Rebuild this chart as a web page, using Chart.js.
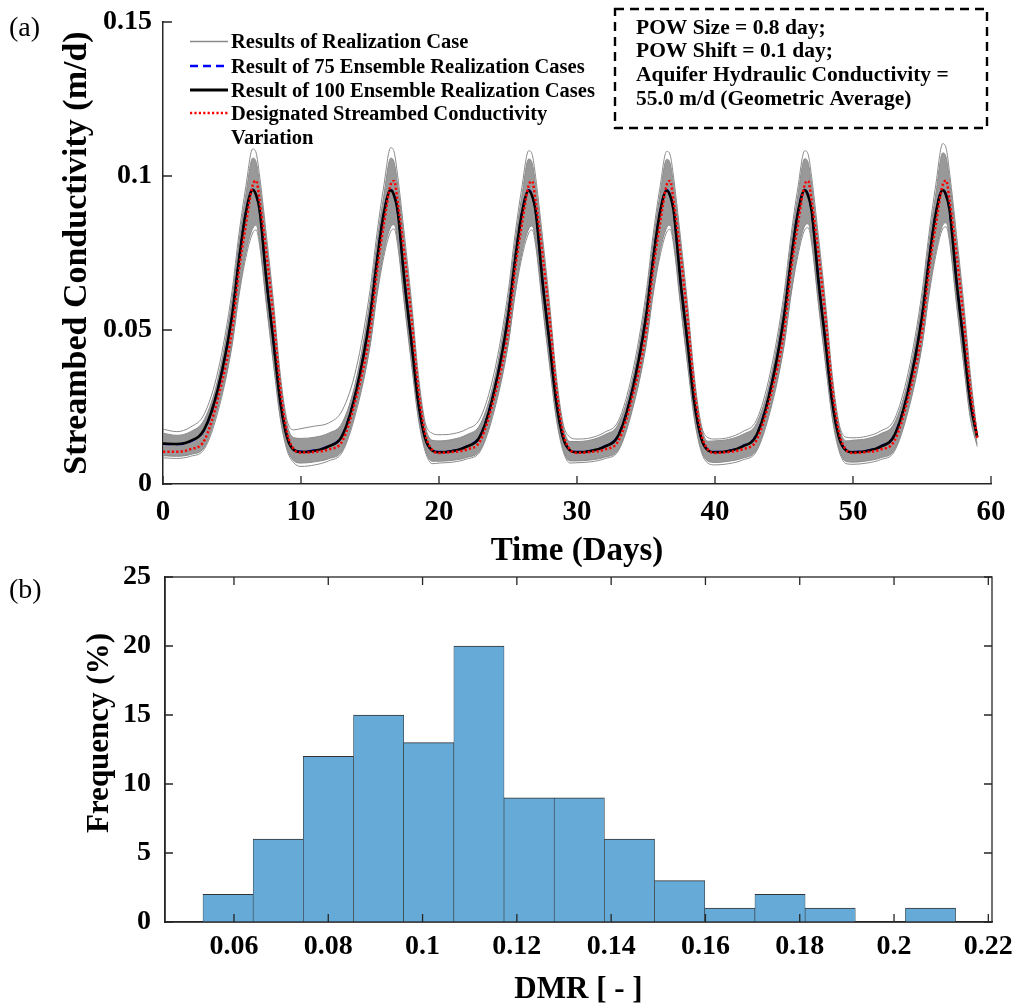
<!DOCTYPE html>
<html>
<head>
<meta charset="utf-8">
<script src="https://cdn.jsdelivr.net/npm/chart.js@4.4.1/dist/chart.umd.min.js"></script>
<style>
  html, body { margin: 0; padding: 0; background: #fff; overflow: hidden; }
  #wrap { position: relative; width: 1013px; height: 1005px; }
  #topBox { position: absolute; left: 0; top: 0; width: 1013px; height: 575px; }
  #botBox { position: absolute; left: 0; top: 555px; width: 1013px; height: 450px; }
</style>
</head>
<body>
<div id="wrap">
  <div id="topBox"><canvas id="condChart"></canvas></div>
  <div id="botBox"><canvas id="histChart"></canvas></div>
</div>
<script>
// ---- panel (a): time axis, one line per cycle of 10 days
const TIME = [
  0, 1, 2, 3, 4, 5, 5.5, 6, 6.5, 6.75, 7, 7.5, 8, 8.5, 9, 9.5,
  10, 11, 12, 13, 14, 15, 15.5, 16, 16.5, 16.75, 17, 17.5, 18, 18.5, 19, 19.5,
  20, 21, 22, 23, 24, 25, 25.5, 26, 26.5, 26.75, 27, 27.5, 28, 28.5, 29, 29.5,
  30, 31, 32, 33, 34, 35, 35.5, 36, 36.5, 36.75, 37, 37.5, 38, 38.5, 39, 39.5,
  40, 41, 42, 43, 44, 45, 45.5, 46, 46.5, 46.75, 47, 47.5, 48, 48.5, 49, 49.5,
  50, 51, 52, 53, 54, 55, 55.5, 56, 56.5, 56.75, 57, 57.5, 58, 58.5, 59
];

// designated streambed conductivity (red dotted)
const DESIGNATED = [
  0.0105, 0.0105, 0.0113, 0.0142, 0.0282, 0.0497, 0.0690, 0.0840, 0.0970, 0.0985, 0.0920, 0.0745, 0.0540, 0.0310, 0.0165, 0.0112,
  0.0102, 0.0104, 0.0112, 0.0140, 0.0280, 0.0495, 0.0688, 0.0842, 0.0972, 0.0984, 0.0918, 0.0743, 0.0538, 0.0308, 0.0163, 0.0111,
  0.0101, 0.0104, 0.0112, 0.0141, 0.0281, 0.0494, 0.0690, 0.0841, 0.0970, 0.0983, 0.0919, 0.0745, 0.0540, 0.0310, 0.0164, 0.0111,
  0.0101, 0.0104, 0.0112, 0.0140, 0.0280, 0.0494, 0.0689, 0.0840, 0.0971, 0.0984, 0.0919, 0.0744, 0.0539, 0.0309, 0.0164, 0.0111,
  0.0101, 0.0104, 0.0113, 0.0141, 0.0281, 0.0495, 0.0690, 0.0841, 0.0971, 0.0984, 0.0920, 0.0745, 0.0540, 0.0310, 0.0165, 0.0111,
  0.0101, 0.0104, 0.0112, 0.0140, 0.0280, 0.0494, 0.0690, 0.0841, 0.0971, 0.0985, 0.0920, 0.0745, 0.0540, 0.0310, 0.0150
];

// ensemble of 100 realizations (black)
const ENSEMBLE_100 = [
  0.0131, 0.0130, 0.0140, 0.0178, 0.0312, 0.0545, 0.0725, 0.0880, 0.0955, 0.0938, 0.0890, 0.0660, 0.0465, 0.0268, 0.0150, 0.0110,
  0.0104, 0.0108, 0.0122, 0.0158, 0.0302, 0.0542, 0.0722, 0.0878, 0.0954, 0.0936, 0.0888, 0.0658, 0.0462, 0.0265, 0.0148, 0.0109,
  0.0103, 0.0107, 0.0121, 0.0157, 0.0301, 0.0541, 0.0722, 0.0877, 0.0953, 0.0935, 0.0887, 0.0657, 0.0462, 0.0266, 0.0149, 0.0109,
  0.0103, 0.0107, 0.0121, 0.0158, 0.0302, 0.0542, 0.0723, 0.0878, 0.0953, 0.0936, 0.0888, 0.0658, 0.0463, 0.0266, 0.0149, 0.0109,
  0.0103, 0.0107, 0.0122, 0.0158, 0.0302, 0.0542, 0.0723, 0.0878, 0.0954, 0.0936, 0.0888, 0.0658, 0.0463, 0.0266, 0.0149, 0.0109,
  0.0103, 0.0107, 0.0121, 0.0158, 0.0302, 0.0542, 0.0723, 0.0878, 0.0954, 0.0937, 0.0889, 0.0659, 0.0464, 0.0268, 0.0152
];

// ensemble of 75 realizations (blue dashed)
const ENSEMBLE_75 = [
  0.0130, 0.0129, 0.0139, 0.0177, 0.0311, 0.0544, 0.0724, 0.0879, 0.0956, 0.0939, 0.0891, 0.0661, 0.0466, 0.0269, 0.0151, 0.0111,
  0.0105, 0.0109, 0.0123, 0.0159, 0.0303, 0.0543, 0.0723, 0.0879, 0.0955, 0.0937, 0.0889, 0.0659, 0.0463, 0.0266, 0.0149, 0.0110,
  0.0104, 0.0108, 0.0122, 0.0158, 0.0302, 0.0542, 0.0723, 0.0878, 0.0954, 0.0936, 0.0888, 0.0658, 0.0463, 0.0267, 0.0150, 0.0110,
  0.0104, 0.0108, 0.0122, 0.0159, 0.0303, 0.0543, 0.0724, 0.0879, 0.0954, 0.0937, 0.0889, 0.0659, 0.0464, 0.0267, 0.0150, 0.0110,
  0.0104, 0.0108, 0.0123, 0.0159, 0.0303, 0.0543, 0.0724, 0.0879, 0.0955, 0.0937, 0.0889, 0.0659, 0.0464, 0.0267, 0.0150, 0.0110,
  0.0104, 0.0108, 0.0122, 0.0159, 0.0303, 0.0543, 0.0724, 0.0879, 0.0955, 0.0938, 0.0890, 0.0660, 0.0465, 0.0269, 0.0153
];

// a few single realizations (top outlier, upper/lower core, bottom outlier)
const REAL_TOP = [
  0.0178, 0.0170, 0.0185, 0.0228, 0.0370, 0.0625, 0.0810, 0.0965, 0.1088, 0.1075, 0.1000, 0.0805, 0.0595, 0.0355, 0.0205, 0.0176,
  0.0180, 0.0188, 0.0198, 0.0240, 0.0375, 0.0628, 0.0812, 0.0968, 0.1092, 0.1078, 0.1002, 0.0806, 0.0596, 0.0356, 0.0200, 0.0165,
  0.0160, 0.0163, 0.0178, 0.0215, 0.0362, 0.0620, 0.0806, 0.0962, 0.1082, 0.1070, 0.0998, 0.0802, 0.0592, 0.0352, 0.0195, 0.0152,
  0.0146, 0.0150, 0.0168, 0.0205, 0.0358, 0.0618, 0.0804, 0.0960, 0.1080, 0.1068, 0.0996, 0.0800, 0.0590, 0.0350, 0.0193, 0.0150,
  0.0146, 0.0151, 0.0170, 0.0207, 0.0360, 0.0618, 0.0804, 0.0961, 0.1082, 0.1070, 0.0998, 0.0802, 0.0592, 0.0352, 0.0194, 0.0152,
  0.0150, 0.0155, 0.0172, 0.0210, 0.0362, 0.0622, 0.0810, 0.0972, 0.1105, 0.1090, 0.1010, 0.0810, 0.0598, 0.0358, 0.0165
];
const REAL_HIGH = [
  0.0165, 0.0158, 0.0170, 0.0210, 0.0345, 0.0600, 0.0785, 0.0938, 0.1058, 0.1045, 0.0975, 0.0785, 0.0575, 0.0340, 0.0192, 0.0150,
  0.0148, 0.0152, 0.0165, 0.0200, 0.0340, 0.0598, 0.0782, 0.0936, 0.1058, 0.1044, 0.0974, 0.0784, 0.0574, 0.0338, 0.0188, 0.0142,
  0.0140, 0.0145, 0.0160, 0.0195, 0.0337, 0.0594, 0.0780, 0.0934, 0.1055, 0.1042, 0.0972, 0.0782, 0.0572, 0.0336, 0.0185, 0.0138,
  0.0138, 0.0143, 0.0160, 0.0195, 0.0337, 0.0595, 0.0780, 0.0935, 0.1054, 0.1041, 0.0972, 0.0782, 0.0572, 0.0336, 0.0185, 0.0139,
  0.0140, 0.0145, 0.0161, 0.0196, 0.0338, 0.0595, 0.0781, 0.0935, 0.1056, 0.1043, 0.0973, 0.0783, 0.0573, 0.0337, 0.0186, 0.0140,
  0.0142, 0.0147, 0.0163, 0.0198, 0.0340, 0.0598, 0.0785, 0.0942, 0.1075, 0.1060, 0.0985, 0.0790, 0.0578, 0.0342, 0.0160
];
const REAL_LOW = [
  0.0092, 0.0090, 0.0096, 0.0120, 0.0250, 0.0455, 0.0620, 0.0750, 0.0830, 0.0840, 0.0790, 0.0590, 0.0400, 0.0220, 0.0115, 0.0075,
  0.0068, 0.0072, 0.0082, 0.0110, 0.0245, 0.0452, 0.0618, 0.0752, 0.0835, 0.0842, 0.0792, 0.0592, 0.0402, 0.0222, 0.0113, 0.0074,
  0.0074, 0.0077, 0.0086, 0.0112, 0.0246, 0.0453, 0.0618, 0.0750, 0.0828, 0.0838, 0.0790, 0.0590, 0.0400, 0.0220, 0.0113, 0.0075,
  0.0075, 0.0078, 0.0087, 0.0112, 0.0246, 0.0453, 0.0618, 0.0752, 0.0832, 0.0840, 0.0790, 0.0590, 0.0400, 0.0221, 0.0113, 0.0074,
  0.0070, 0.0074, 0.0084, 0.0110, 0.0245, 0.0452, 0.0618, 0.0754, 0.0838, 0.0845, 0.0795, 0.0592, 0.0401, 0.0221, 0.0113, 0.0073,
  0.0071, 0.0075, 0.0085, 0.0111, 0.0245, 0.0453, 0.0620, 0.0756, 0.0840, 0.0848, 0.0798, 0.0594, 0.0403, 0.0222, 0.0130
];
const REAL_BOTTOM = [
  0.0085, 0.0083, 0.0090, 0.0114, 0.0238, 0.0448, 0.0610, 0.0735, 0.0815, 0.0825, 0.0775, 0.0578, 0.0390, 0.0212, 0.0108, 0.0068,
  0.0057, 0.0062, 0.0075, 0.0104, 0.0235, 0.0446, 0.0610, 0.0738, 0.0820, 0.0828, 0.0778, 0.0580, 0.0392, 0.0213, 0.0106, 0.0066,
  0.0068, 0.0071, 0.0081, 0.0107, 0.0237, 0.0448, 0.0610, 0.0735, 0.0815, 0.0825, 0.0776, 0.0578, 0.0390, 0.0212, 0.0106, 0.0068,
  0.0069, 0.0072, 0.0082, 0.0108, 0.0238, 0.0448, 0.0611, 0.0737, 0.0818, 0.0827, 0.0777, 0.0579, 0.0391, 0.0212, 0.0106, 0.0067,
  0.0062, 0.0066, 0.0078, 0.0106, 0.0236, 0.0447, 0.0611, 0.0740, 0.0825, 0.0832, 0.0782, 0.0581, 0.0392, 0.0213, 0.0106, 0.0066,
  0.0064, 0.0068, 0.0079, 0.0106, 0.0237, 0.0448, 0.0612, 0.0742, 0.0828, 0.0835, 0.0785, 0.0583, 0.0394, 0.0214, 0.0122
];

const TIME_TICKS = [0, 10, 20, 30, 40, 50, 60];
const COND_TICKS = [0, 0.05, 0.1, 0.15];
const COND_LABELS = ['0', '0.05', '0.1', '0.15'];

// ---- panel (b): histogram of DMR
const DMR_BINS = [0.05875, 0.06939, 0.08003, 0.09068, 0.10132, 0.11196, 0.12260, 0.13325, 0.14389, 0.15453, 0.16517, 0.17582, 0.18646, 0.19710, 0.20774];
const FREQ = [2, 6, 12, 15, 13, 20, 9, 9, 6, 3, 1, 2, 1, 0, 1];
const DMR_TICKS = [0.06, 0.08, 0.1, 0.12, 0.14, 0.16, 0.18, 0.2, 0.22];
const DMR_LABELS = ['0.06', '0.08', '0.1', '0.12', '0.14', '0.16', '0.18', '0.2', '0.22'];
const FREQ_TICKS = [0, 5, 10, 15, 20, 25];

const LEGEND_TEXT = [
  ['Results of Realization Case'],
  ['Result of 75 Ensemble Realization Cases'],
  ['Result of 100 Ensemble Realization Cases'],
  ['Designated Streambed Conductivity', 'Variation']
];
const NOTE_TEXT = [
  'POW Size = 0.8 day;',
  'POW Shift = 0.1 day;',
  'Aquifer Hydraulic Conductivity =',
  '55.0 m/d (Geometric Average)'
];

const SERIF = '"Liberation Serif", "Times New Roman", serif';
const AXIS = '#262626';
const GREY = '#8a8a8a';

function pts(arr) {
  return TIME.map((t, i) => ({ x: t, y: arr[i] }));
}

function line(arr, color, width, dash, extra) {
  return Object.assign({
    data: pts(arr),
    borderColor: color,
    borderWidth: width,
    borderDash: dash,
    pointRadius: 0,
    cubicInterpolationMode: 'monotone',
    fill: false
  }, extra || {});
}

// no label overflow padding: the plot box is placed by hand
function noPadX(s, h) { s.height = h; s.paddingLeft = 0; s.paddingRight = 0; }
function noPadY(s, w) { s.width = w; s.paddingTop = 0; s.paddingBottom = 0; }

// first dataset is drawn on top
const condDatasets = [
  line(DESIGNATED, '#ff0000', 2.5, [2.2, 2.2]),
  line(ENSEMBLE_100, '#000000', 2.6, []),
  line(ENSEMBLE_75, '#0000ff', 2.2, [8, 5]),
  line(REAL_TOP, GREY, 1, []),
  line(REAL_HIGH, GREY, 1, [], { fill: '+1', backgroundColor: 'rgba(135,135,135,0.85)' }),
  line(REAL_LOW, GREY, 1, []),
  line(REAL_BOTTOM, GREY, 1, [])
];

const panelA = {
  id: 'panelA',
  afterDraw(chart) {
    const { ctx, chartArea: a, scales } = chart;
    ctx.save();

    // inward tick marks
    ctx.strokeStyle = AXIS;
    ctx.lineWidth = 1.3;
    ctx.beginPath();
    TIME_TICKS.forEach(v => {
      const px = scales.x.getPixelForValue(v);
      ctx.moveTo(px, a.bottom);
      ctx.lineTo(px, a.bottom - 8);
    });
    COND_TICKS.forEach(v => {
      const py = scales.y.getPixelForValue(v);
      ctx.moveTo(a.left, py);
      ctx.lineTo(a.left + 9, py);
    });
    ctx.stroke();

    // axis titles and panel tag
    ctx.fillStyle = '#000';
    ctx.textBaseline = 'alphabetic';
    ctx.textAlign = 'center';
    ctx.font = 'bold 33px ' + SERIF;
    ctx.fillText('Time (Days)', (a.left + a.right) / 2, 560);
    ctx.save();
    ctx.translate(86, (a.top + a.bottom) / 2);
    ctx.rotate(-Math.PI / 2);
    ctx.font = 'bold 34px ' + SERIF;
    ctx.fillText('Streambed Conductivity (m/d)', 0, 0);
    ctx.restore();
    ctx.textAlign = 'left';
    ctx.font = '28px ' + SERIF;
    ctx.fillText('(a)', 9, 36);

    // legend
    const styles = [
      { color: GREY, width: 1.5, dash: [] },
      { color: '#0000ff', width: 2.4, dash: [8, 5] },
      { color: '#000000', width: 2.8, dash: [] },
      { color: '#ff0000', width: 2.4, dash: [2.2, 2.2] }
    ];
    const baselines = [48, 72.5, 96.5, 119.5];
    ctx.font = 'bold 20.5px ' + SERIF;
    LEGEND_TEXT.forEach((lines, i) => {
      const s = styles[i];
      const yLine = baselines[i] - 6.5;
      ctx.beginPath();
      ctx.strokeStyle = s.color;
      ctx.lineWidth = s.width;
      ctx.setLineDash(s.dash);
      ctx.moveTo(190, yLine);
      ctx.lineTo(228, yLine);
      ctx.stroke();
      ctx.setLineDash([]);
      lines.forEach((t, k) => ctx.fillText(t, 231, baselines[i] + k * 24));
    });

    // parameter box
    ctx.strokeStyle = '#000';
    ctx.lineWidth = 2.4;
    ctx.setLineDash([9, 6]);
    ctx.strokeRect(615, 9, 372, 119);
    ctx.setLineDash([]);
    ctx.font = 'bold 21.5px ' + SERIF;
    const noteBase = [33.5, 57, 81, 104.5];
    NOTE_TEXT.forEach((t, i) => ctx.fillText(t, 636, noteBase[i]));

    ctx.restore();
  }
};

new Chart(document.getElementById('condChart'), {
  type: 'line',
  data: { datasets: condDatasets },
  plugins: [panelA],
  options: {
    responsive: true,
    maintainAspectRatio: false,
    animation: false,
    layout: { padding: { left: 0, top: 22, right: 22, bottom: 0 } },
    plugins: { legend: { display: false }, tooltip: { enabled: false } },
    scales: {
      x: {
        type: 'linear', min: 0, max: 60,
        afterBuildTicks: s => { s.ticks = TIME_TICKS.map(v => ({ value: v })); },
        afterFit: s => noPadX(s, 91),
        grid: { display: false, drawTicks: false },
        border: { display: true, color: AXIS, width: 1.5 },
        ticks: { padding: 11, color: '#000', maxRotation: 0, font: { family: SERIF, size: 29, weight: 'bold' } }
      },
      y: {
        type: 'linear', min: 0, max: 0.15,
        afterBuildTicks: s => { s.ticks = COND_TICKS.map(v => ({ value: v })); },
        afterFit: s => noPadY(s, 163),
        grid: { display: false, drawTicks: false },
        border: { display: true, color: AXIS, width: 1.5 },
        ticks: {
          padding: 11, color: '#000',
          font: { family: SERIF, size: 28, weight: 'bold' },
          callback: (v, i) => COND_LABELS[i]
        }
      }
    }
  }
});

const panelB = {
  id: 'panelB',
  afterDraw(chart) {
    const { ctx, chartArea: a, scales } = chart;
    ctx.save();
    ctx.strokeStyle = AXIS;
    ctx.lineWidth = 1.3;
    ctx.strokeRect(a.left, a.top, a.right - a.left, a.bottom - a.top);
    ctx.beginPath();
    DMR_TICKS.forEach(v => {
      const px = scales.x.getPixelForValue(v);
      ctx.moveTo(px, a.bottom); ctx.lineTo(px, a.bottom - 8);
      ctx.moveTo(px, a.top); ctx.lineTo(px, a.top + 8);
    });
    FREQ_TICKS.forEach(v => {
      const py = scales.y.getPixelForValue(v);
      ctx.moveTo(a.left, py); ctx.lineTo(a.left + 8, py);
      ctx.moveTo(a.right, py); ctx.lineTo(a.right - 8, py);
    });
    ctx.stroke();

    ctx.fillStyle = '#000';
    ctx.textBaseline = 'alphabetic';
    ctx.textAlign = 'center';
    ctx.font = 'bold 31px ' + SERIF;
    ctx.fillText('DMR [ - ]', (a.left + a.right) / 2, 443);
    ctx.save();
    ctx.translate(108, 178);
    ctx.rotate(-Math.PI / 2);
    ctx.fillText('Frequency (%)', 0, 0);
    ctx.restore();
    ctx.textAlign = 'left';
    ctx.font = '28px ' + SERIF;
    ctx.fillText('(b)', 9, 43);
    ctx.restore();
  }
};

new Chart(document.getElementById('histChart'), {
  type: 'bar',
  data: {
    datasets: [{
      data: DMR_BINS.map((x, i) => ({ x: x, y: FREQ[i] })),
      backgroundColor: '#66aad7',
      borderColor: '#333333',
      borderWidth: { top: 1, left: 0.6, right: 0.6, bottom: 0 },
      barPercentage: 1,
      categoryPercentage: 1
    }]
  },
  plugins: [panelB],
  options: {
    responsive: true,
    maintainAspectRatio: false,
    animation: false,
    layout: { padding: { left: 0, top: 22, right: 21, bottom: 0 } },
    plugins: { legend: { display: false }, tooltip: { enabled: false } },
    scales: {
      x: {
        type: 'linear', min: 0.04537, max: 0.22078, offset: false,
        afterBuildTicks: s => { s.ticks = DMR_TICKS.map(v => ({ value: v })); },
        afterFit: s => noPadX(s, 83),
        grid: { display: false, drawTicks: false, offset: false },
        border: { display: true, color: AXIS, width: 1.5 },
        ticks: {
          padding: 8, color: '#000', maxRotation: 0,
          font: { family: SERIF, size: 28, weight: 'bold' },
          callback: (v, i) => DMR_LABELS[i]
        }
      },
      y: {
        type: 'linear', min: 0, max: 25,
        afterBuildTicks: s => { s.ticks = FREQ_TICKS.map(v => ({ value: v })); },
        afterFit: s => noPadY(s, 165),
        grid: { display: false, drawTicks: false },
        border: { display: true, color: AXIS, width: 1.5 },
        ticks: {
          padding: 14, color: '#000',
          font: { family: SERIF, size: 28, weight: 'bold' },
          callback: (v, i) => String(FREQ_TICKS[i])
        }
      }
    }
  }
});
</script>
</body>
</html>
